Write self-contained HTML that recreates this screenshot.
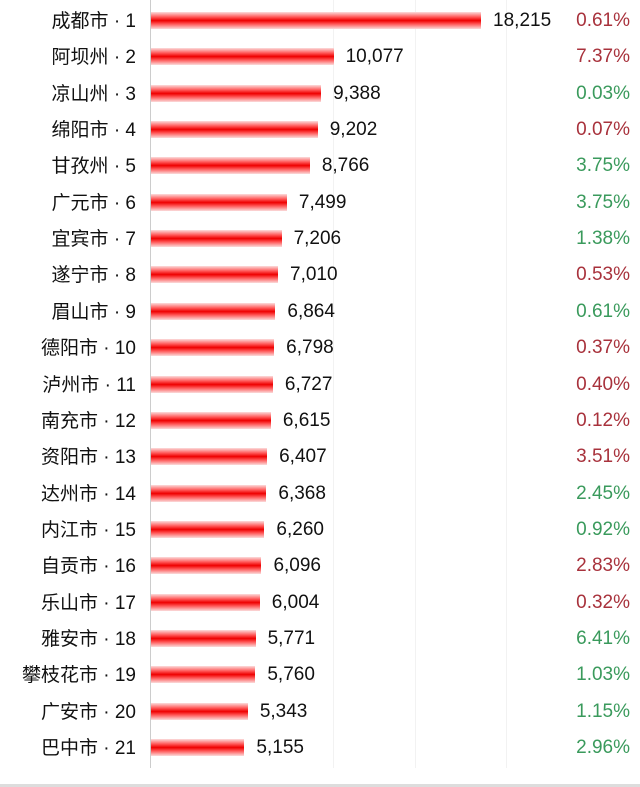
<!DOCTYPE html>
<html><head><meta charset="utf-8"><style>
body{margin:0;background:#fff;}
#c{position:relative;width:640px;height:787px;overflow:hidden;background:#fff;font-family:"Liberation Sans","Noto Sans CJK SC",sans-serif;font-size:18px;color:#111;}
.ax{position:absolute;left:150px;top:0;width:1px;height:768px;background:#ccc;}
.g{position:absolute;top:0;width:1px;height:768px;background:#f2f2f2;}
.row{position:absolute;left:0;width:640px;height:36px;line-height:36px;}
.lb{position:absolute;right:504px;top:2px;white-space:nowrap;font-size:19px;}
.bar{position:absolute;left:151px;top:10px;height:17px;background:linear-gradient(#fbdcdc,#f55 30%,#e00 50%,#f55 70%,#fbdcdc);}
.v{position:absolute;top:1px;font-size:19px;}
.p{position:absolute;right:10px;top:1px;font-size:19px;}
.r{color:#a8323c}.gr{color:#3a9a5c}
.bt{position:absolute;left:0;top:784px;width:640px;height:3px;background:#ddd;}
</style></head><body><div id="c">
<div class="g" style="left:333px"></div><div class="g" style="left:415px"></div><div class="g" style="left:506px"></div>
<div class="ax"></div>
<div id="rows"></div>
<div class="bt"></div>
</div>
<script>
var d=[["成都市",18215,"0.61%","r"],["阿坝州",10077,"7.37%","r"],["凉山州",9388,"0.03%","gr"],["绵阳市",9202,"0.07%","r"],["甘孜州",8766,"3.75%","gr"],["广元市",7499,"3.75%","gr"],["宜宾市",7206,"1.38%","gr"],["遂宁市",7010,"0.53%","r"],["眉山市",6864,"0.61%","gr"],["德阳市",6798,"0.37%","r"],["泸州市",6727,"0.40%","r"],["南充市",6615,"0.12%","r"],["资阳市",6407,"3.51%","r"],["达州市",6368,"2.45%","gr"],["内江市",6260,"0.92%","gr"],["自贡市",6096,"2.83%","r"],["乐山市",6004,"0.32%","r"],["雅安市",5771,"6.41%","gr"],["攀枝花市",5760,"1.03%","gr"],["广安市",5343,"1.15%","gr"],["巴中市",5155,"2.96%","gr"]];
var h="";
d.forEach(function(e,i){var y=2+i*36.35;var w=e[1]*0.01812;
h+='<div class="row" style="top:'+y+'px"><span class="lb">'+e[0]+' · '+(i+1)+'</span><div class="bar" style="width:'+w+'px"></div><span class="v" style="left:'+(151+w+12)+'px">'+e[1].toLocaleString("en-US")+'</span><span class="p '+e[3]+'">'+e[2]+'</span></div>';});
document.getElementById("rows").innerHTML=h;
</script>
</body></html>
